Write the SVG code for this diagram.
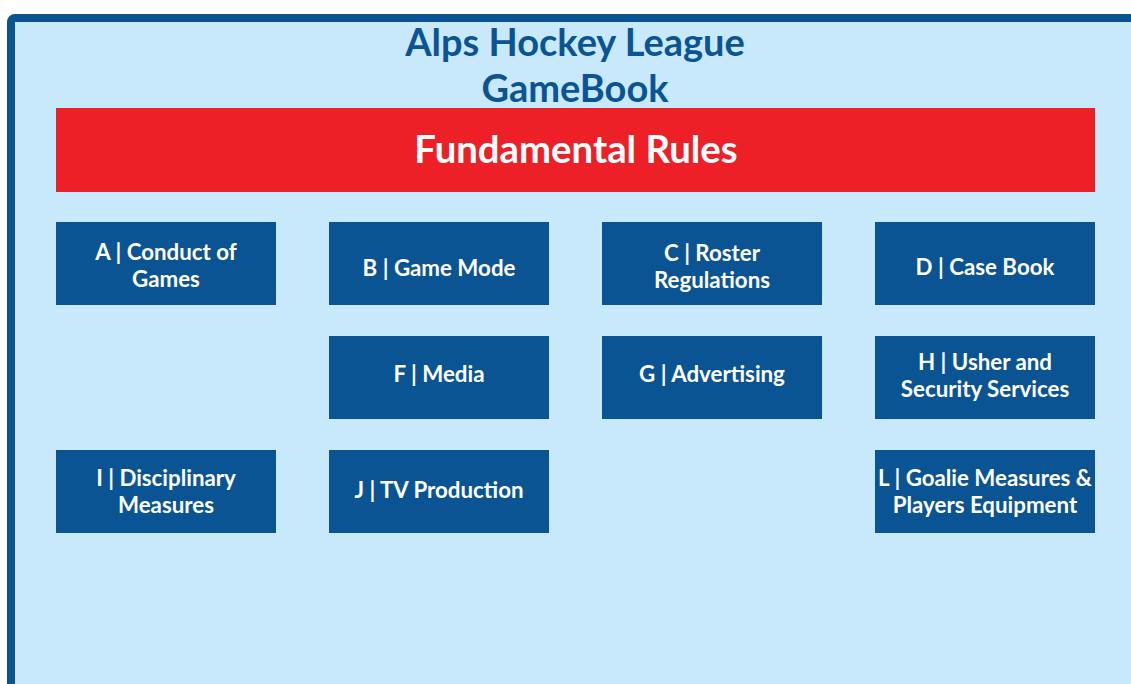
<svg xmlns="http://www.w3.org/2000/svg" width="1131" height="684" viewBox="0 0 1131 684">
<style>
.bg{fill:#C7E9FB;stroke:#0B5494;stroke-width:8}
.title{font-family:Lato,"Liberation Sans",sans-serif;font-weight:bold;font-size:38px;fill:#0B5494;text-anchor:middle}
.hdr{fill:#ED1F27}
.hdrt{font-family:Lato,"Liberation Sans",sans-serif;font-weight:bold;font-size:38.3px;fill:#fff;text-anchor:middle}
.box{fill:#0B5494}
.bt{font-family:Lato,"Liberation Sans",sans-serif;font-weight:bold;font-size:22.3px;fill:#fff;text-anchor:middle}
</style>
<rect x="0" y="0" width="1131" height="684" fill="#fff"/>
<rect class="bg" x="11" y="18" width="1140" height="700" rx="4"/>
<g id="title">
<text class="title" x="575" y="56">Alps Hockey League</text>
<text class="title" x="575" y="102">GameBook</text>
</g>
<g id="fundamental">
<rect class="hdr" x="56" y="108" width="1039" height="84"/>
<text class="hdrt" x="576" y="163">Fundamental Rules</text>
</g>
<g id="nodeA"><rect class="box" x="56" y="222" width="220" height="83"/><text class="bt" x="166" y="260">A | Conduct of</text><text class="bt" x="166" y="287">Games</text></g>
<g id="nodeB"><rect class="box" x="329" y="222" width="220" height="83"/><text class="bt" x="439" y="276">B | Game Mode</text></g>
<g id="nodeC"><rect class="box" x="602" y="222" width="220" height="83"/><text class="bt" x="712" y="261">C | Roster</text><text class="bt" x="712" y="288">Regulations</text></g>
<g id="nodeD"><rect class="box" x="875" y="222" width="220" height="83"/><text class="bt" x="985" y="275">D | Case Book</text></g>
<g id="nodeF"><rect class="box" x="329" y="336" width="220" height="83"/><text class="bt" x="439" y="382">F | Media</text></g>
<g id="nodeG"><rect class="box" x="602" y="336" width="220" height="83"/><text class="bt" x="712" y="382">G | Advertising</text></g>
<g id="nodeH"><rect class="box" x="875" y="336" width="220" height="83"/><text class="bt" x="985" y="370">H | Usher and</text><text class="bt" x="985" y="397">Security Services</text></g>
<g id="nodeI"><rect class="box" x="56" y="450" width="220" height="83"/><text class="bt" x="166" y="486">I | Disciplinary</text><text class="bt" x="166" y="513">Measures</text></g>
<g id="nodeJ"><rect class="box" x="329" y="450" width="220" height="83"/><text class="bt" x="439" y="498">J | TV Production</text></g>
<g id="nodeL"><rect class="box" x="875" y="450" width="220" height="83"/><text class="bt" x="985" y="486">L | Goalie Measures &amp;</text><text class="bt" x="985" y="513">Players Equipment</text></g>
<g id="connectors"/>
</svg>
